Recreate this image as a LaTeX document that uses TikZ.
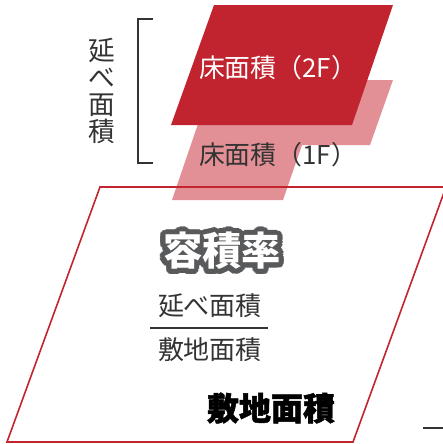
\documentclass[tikz,border=0pt]{standalone}
\usepackage{fontspec}
\usetikzlibrary{calc}
\newfontfamily\jpfont{Noto Sans CJK JP}
\newfontfamily\jpheavy{Noto Sans CJK JP}[FakeBold=1.5]
\definecolor{floortwo}{RGB}{193,35,47}
\definecolor{floorone}{RGB}{226,143,149}
\definecolor{siteline}{RGB}{196,36,46}
\definecolor{textgray}{RGB}{51,51,51}
\definecolor{rimgray}{RGB}{88,89,91}
\tikzset{
  floortext/.style={font=\jpfont\fontsize{19.4}{21}\selectfont, inner sep=0pt},
  tate/.style={font=\jpfont\fontsize{20}{20.4}\selectfont, align=center, inner sep=0pt, text=textgray},
  fractext/.style={font=\jpfont\fontsize{19.5}{21}\selectfont, inner sep=0pt, text=textgray},
  bigtext/.style={font=\jpfont\bfseries\fontsize{29.5}{31}\selectfont, inner sep=0pt},
}
\begin{document}
\begin{tikzpicture}[x=0.75pt,y=0.75pt,yscale=-1,xscale=1]
\useasboundingbox (0,0) rectangle (443,444);

%Shape: Polygon [1F floor]
\draw  [draw opacity=0][fill=floorone ,fill opacity=1 ] (213,80) -- (393,80) -- (370,145) -- (302,145) -- (283,200) -- (172,200) -- cycle ;
%Shape: Parallelogram [site area]
\draw  [color=siteline ,line width=1.2pt ] (100,187) -- (446,187) -- (353,442) -- (7,442) -- cycle ;
%Shape: Parallelogram [2F floor]
\draw  [draw opacity=0][fill=floortwo ,fill opacity=1 ] (214,5) -- (393,5) -- (352,125) -- (171,125) -- cycle ;

%Straight Lines [bracket]
\draw [color=textgray ,line width=1.2pt ]    (153,19) -- (138,19) -- (138,163) -- (153,163) ;
%Straight Lines [fraction bar]
\draw [color=textgray ,line width=1.5pt ]    (150,328) -- (268,328) ;
%Straight Lines [edge stub]
\draw [color=textgray ,line width=1.2pt ]    (423,428) -- (443,428) ;

% Text Node
\node [floortext, text=white] (labeltwo) at (278,68) {床面積（2F）};
% Text Node
\node [floortext, text=textgray] (labelone) at (278,155) {床面積（1F）};
% Text Node
\node [tate] (totalarea) at (102,91) {延\\べ\\面\\積};
% Text Node
\foreach \a in {0,15,...,345}
  \node [bigtext, text=rimgray] (rim\a) at ($(222,251)+(\a:5)$) {容積率};
\node [bigtext, text=white] (ratio) at (222,251) {容積率};
% Text Node
\node [fractext] (numer) at (210,306) {延べ面積};
% Text Node
\node [fractext] (denom) at (210,350) {敷地面積};
% Text Node
\node [bigtext, font=\jpheavy\bfseries\fontsize{24}{26}\selectfont, text=black] (sitearea) at (271,408) {敷地面積};

\end{tikzpicture}
\end{document}
